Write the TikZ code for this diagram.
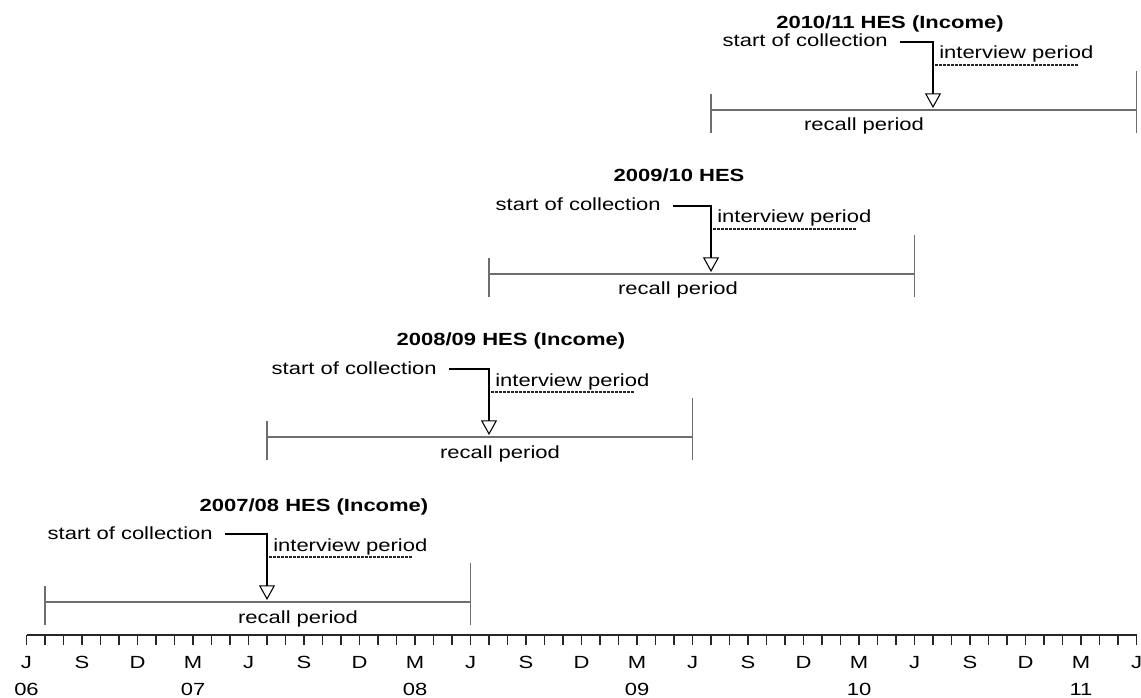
\documentclass[tikz,border=0pt]{standalone}
\usepackage{fontspec}
\setmainfont{Liberation Sans}[FakeStretch=1.25]
\usetikzlibrary{arrows.meta}
\definecolor{bargray}{RGB}{110,110,110}
\tikzset{
  lbl/.style={inner sep=0pt, font=\fontsize{13.2pt}{15pt}\selectfont},
  ttl/.style={inner sep=0pt, font=\fontsize{13.2pt}{15pt}\selectfont\bfseries},
  barline/.style={draw=bargray, line width=0.9pt},
  axisline/.style={draw=black!85, line width=1pt},
  conn/.style={draw=black, line width=1pt, -{Triangle[open, width=12pt, length=11pt, line width=0.8pt]}},
  under/.style={draw=black!85, line width=0.85pt, dash pattern=on 2pt off 1pt}
}
\begin{document}
\begin{tikzpicture}[x=0.75pt,y=-0.75pt]
\useasboundingbox (0,0) rectangle (1141,698);
% axis
\coordinate (ax0) at (26.5,635);
\coordinate (ax1) at (1136.5,635);
\draw[axisline] (ax0) -- (ax1);
\foreach \m in {0,...,60}{
  \draw[axisline] ({26.5+18.5*\m},635) -- ({26.5+18.5*\m},645);
}
\foreach \m/\t in {0/J,3/S,6/D,9/M,12/J,15/S,18/D,21/M,24/J,27/S,30/D,33/M,36/J,39/S,42/D,45/M,48/J,51/S,54/D,57/M,60/J}{
  \node[lbl, anchor=base] (mon\m) at ({26.5+18.5*\m},668) {\t};
}
\foreach \m/\t in {0/06,9/07,21/08,33/09,45/10,57/11}{
  \node[lbl, anchor=base] (yr\m) at ({26.5+18.5*\m},695) {\t};
}
% groups: index / bar y / arrow month / bar start month / bar end month / title / title x / title baseline / soc text end / recall x
\foreach \i/\b/\am/\sm/\em/\ttltext/\tx/\ty/\se/\rx in {
  1/602/13/1/24/{2007/08 HES (Income)}/314/511/213/298,
  2/437/25/13/36/{2008/09 HES (Income)}/511/345/437/500,
  3/274/37/25/48/{2009/10 HES}/679/182/661/678,
  4/110/49/37/60/{2010/11 HES (Income)}/890/29/888/864}{
  \pgfmathsetmacro{\ax}{26.5+18.5*\am}
  \pgfmathsetmacro{\bx}{26.5+18.5*\sm}
  \pgfmathsetmacro{\ex}{26.5+18.5*\em}
  % recall bar
  \coordinate (bs\i) at (\bx,\b);
  \coordinate (be\i) at (\ex,\b);
  \draw[barline] (bs\i) -- (be\i);
  \draw[barline] (\bx,\b-16) -- (\bx,\b+23);
  \draw[barline] (\ex,\b-39) -- (\ex,\b+23);
  \node[lbl, anchor=base] (rec\i) at (\rx,\b+21) {recall period};
  % title
  \node[ttl, anchor=base] (ttl\i) at (\tx,\ty) {\ttltext};
  % start of collection
  \node[lbl, anchor=base east] (soc\i) at (\se,\b-63) {start of collection};
  \coordinate (tip\i) at (\ax,\b-2);
  \draw[conn] ([xshift=9pt]soc\i.east |- 0,\b-68) -| (tip\i);
  % interview period
  \node[lbl, anchor=base west] (int\i) at (\ax+6,\b-51) {interview period};
  \draw[under] (\ax+2,\b-45) -- (\ax+145,\b-45);
}
\end{tikzpicture}
\end{document}
